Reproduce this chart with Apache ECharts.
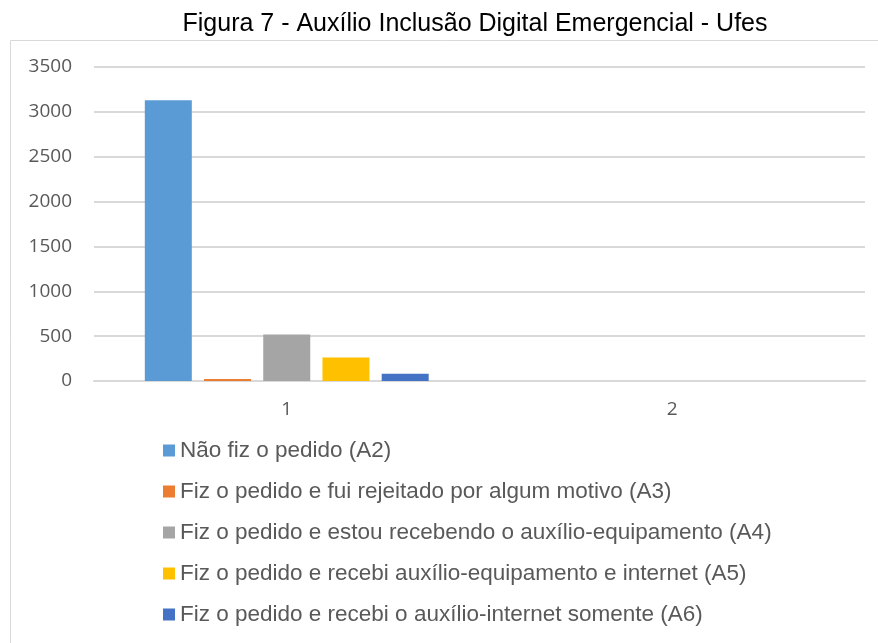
<!DOCTYPE html>
<html>
<head>
<meta charset="utf-8">
<script src="https://cdn.jsdelivr.net/npm/echarts@6/dist/echarts.min.js"></script>
<style>
    html, body { margin: 0; padding: 0; background: #fff; }
    #chart { width: 878px; height: 643px; }
</style>
</head>
<body>
<div id="chart"></div>
<script>
// dados do gráfico
var categorias = ['1', '2'];
var nomesSeries = [
    'Não fiz o pedido (A2)',
    'Fiz o pedido e fui rejeitado por algum motivo (A3)',
    'Fiz o pedido e estou recebendo o auxílio-equipamento (A4)',
    'Fiz o pedido e recebi auxílio-equipamento e internet (A5)',
    'Fiz o pedido e recebi o auxílio-internet somente (A6)'
];
var valoresA2 = [3130, 0];
var valoresA3 = [22, 0];
var valoresA4 = [517, 0];
var valoresA5 = [261, 0];
var valoresA6 = [80, 0];
var cores = ['#5B9BD5', '#ED7D31', '#A5A5A5', '#FFC000', '#4472C4'];

var chart = echarts.init(document.getElementById('chart'));

//monta as séries de barras
var todosValores = [valoresA2, valoresA3, valoresA4, valoresA5, valoresA6];
var series = [];
for (var i = 0; i < nomesSeries.length; i++) {
    series.push({
        name: nomesSeries[i],
        type: 'bar',
        data: todosValores[i],
        barWidth: 47,
        barGap: '26%',
        itemStyle: { color: cores[i] }
    });
}

var option = {
    animation: false,
    color: cores,
    graphic: [
        {
            type: 'rect',
            shape: { x: 10.5, y: 40.5, width: 900, height: 700 },
            style: { fill: 'none', stroke: '#d9d9d9', lineWidth: 1 }
        },
        {
            type: 'text',
            x: 475,
            y: 24.5,
            style: {
                text: 'Figura 7 - Auxílio Inclusão Digital Emergencial - Ufes',
                font: '25px "Liberation Sans", Arial, sans-serif',
                fill: '#000',
                align: 'center',
                verticalAlign: 'middle'
            }
        }
    ],
    legend: {
        orient: 'vertical',
        left: 163,
        top: 439,
        padding: 0,
        icon: 'rect',
        itemWidth: 12,
        itemHeight: 12,
        itemGap: 18,
        data: nomesSeries,
        textStyle: {
            fontFamily: '"Liberation Sans", Arial, sans-serif',
            fontSize: 22.5,
            lineHeight: 21,
            color: '#595959'
        }
    },
    grid: {
        left: 94,
        right: 13,
        top: 67,
        bottom: 262
    },
    xAxis: {
        type: 'category',
        data: categorias,
        axisTick: { show: false },
        axisLine: { lineStyle: { color: '#d9d9d9', width: 2 } },
        axisLabel: {
            fontFamily: '"Open Sans", sans-serif',
            fontSize: 19,
            color: '#595959',
            margin: 19
        }
    },
    yAxis: {
        type: 'value',
        min: 0,
        max: 3500,
        interval: 500,
        axisLine: { show: false },
        axisTick: { show: false },
        splitLine: { lineStyle: { color: '#d9d9d9', width: 2 } },
        axisLabel: {
            fontFamily: '"Open Sans", sans-serif',
            fontSize: 19,
            color: '#595959',
            margin: 22,
            formatter: function (v) { return String(v); }
        }
    },
    series: series
};
chart.setOption(option);
</script>
</body>
</html>
